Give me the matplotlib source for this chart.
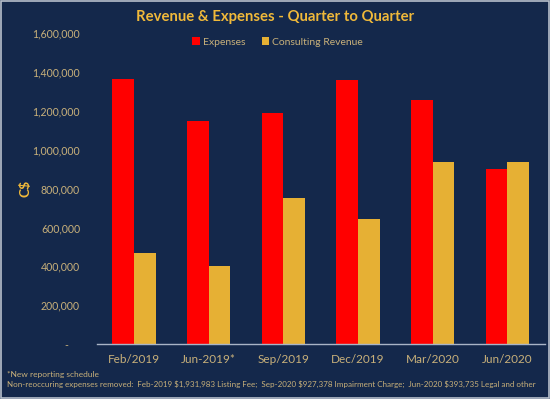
#!/usr/bin/env python3
import matplotlib
matplotlib.use("Agg")
import matplotlib.pyplot as plt
from matplotlib.ticker import FuncFormatter
import numpy as np

quarters = ["Feb/2019", "Jun-2019*", "Sep/2019", "Dec/2019", "Mar/2020", "Jun/2020"]
expenses = [1366000, 1150000, 1191000, 1361000, 1258000, 899000]
revenue = [470000, 401000, 752000, 646000, 939000, 939000]

BG = "#14284b"
GOLD = "#f0b93a"
TAN = "#c8b07a"
RED = "#ff0000"
BAR_GOLD = "#e6b034"

plt.rcParams["font.family"] = ["Lato", "DejaVu Sans"]

fig = plt.figure(figsize=(5.5, 3.99), dpi=100, facecolor=BG)
fig.patches.append(plt.Rectangle((0.002, 0.002), 0.996, 0.996, transform=fig.transFigure,
                                 fill=False, edgecolor="#b8c0cc", linewidth=1.2))
ax = fig.add_axes([0.1758, 0.1378, 0.8145, 0.7785], facecolor=BG)

x = np.arange(len(quarters))
w = 0.29
ax.bar(x - w / 2, expenses, w, color=RED, label="Expenses")
ax.bar(x + w / 2, revenue, w, color=BAR_GOLD, label="Consulting Revenue")

ax.set_xlim(-0.5, len(quarters) - 0.5)
ax.set_ylim(0, 1600000)
ax.set_yticks(np.arange(0, 1600001, 200000))
ax.yaxis.set_major_formatter(FuncFormatter(lambda v, p: "-    " if v == 0 else f"{int(v):,}"))
ax.set_xticks(x)
ax.set_xticklabels(quarters)

for s in ["top", "right", "left"]:
    ax.spines[s].set_visible(False)
ax.spines["bottom"].set_color("#a9b4c6")
ax.spines["bottom"].set_linewidth(1.0)
ax.tick_params(axis="both", length=0)
ax.tick_params(axis="y", colors=TAN, labelsize=7.6, pad=12)
ax.tick_params(axis="x", colors=TAN, labelsize=8.5, pad=7)

fig.text(0.5, 0.958, "Revenue & Expenses - Quarter to Quarter", ha="center", va="center",
         color=GOLD, fontsize=10.7, fontweight="bold")
fig.text(0.046, 0.527, "C$", ha="center", va="center", rotation=90,
         color=GOLD, fontsize=10, fontweight="bold")

leg = fig.legend(loc="center", bbox_to_anchor=(0.505, 0.895), ncol=2, frameon=False,
                 fontsize=7.5, handlelength=0.7, handleheight=0.7, handletextpad=0.3,
                 columnspacing=1.6)
for t in leg.get_texts():
    t.set_color(TAN)

fig.text(0.012, 0.062, "*New reporting schedule", ha="left", va="center",
         color=TAN, fontsize=6.0)
fig.text(0.012, 0.037,
         "Non-reoccuring expenses removed:  Feb-2019 $1,931,983 Listing Fee;  Sep-2020 $927,378 "
         "Impairment Charge;  Jun-2020 $393,735 Legal and other",
         ha="left", va="center", color=TAN, fontsize=5.75)

fig.savefig("out.png", dpi=100, facecolor=BG)
